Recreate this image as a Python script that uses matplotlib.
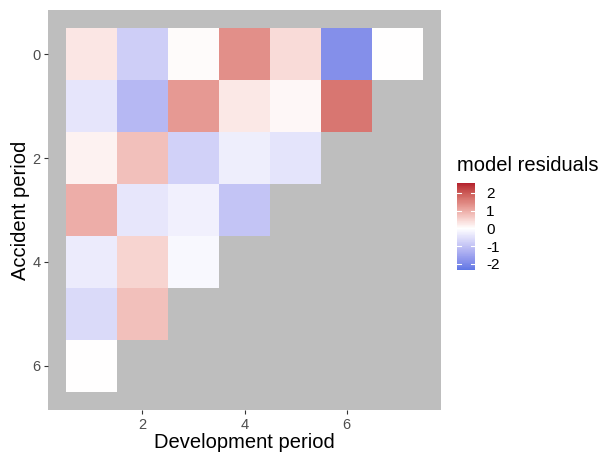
import matplotlib
matplotlib.use("Agg")
import matplotlib.pyplot as plt
import numpy as np
from matplotlib.colors import ListedColormap, Normalize, to_rgb

plt.rcParams['font.family'] = ['Liberation Sans', 'DejaVu Sans']
plt.rcParams['axes.unicode_minus'] = False

dev = [1, 2, 3, 4, 5, 6, 7]
acc = [0, 1, 2, 3, 4, 5, 6]
nan = np.nan
# residuals, rows = accident period, cols = development period
residuals = [
    [0.30, -0.80, 0.05, 1.36, 0.44, -1.88, 0.00],
    [-0.41, -1.16, 1.23, 0.28, 0.10, 1.65, nan],
    [0.16, 0.76, -0.74, -0.28, -0.44, nan, nan],
    [0.98, -0.40, -0.24, -0.97, nan, nan, nan],
    [-0.31, 0.52, -0.11, nan, nan, nan, nan],
    [-0.60, 0.76, nan, nan, nan, nan, nan],
    [0.00, nan, nan, nan, nan, nan, nan],
]
cbar_ticks = [-2, -1, 0, 1, 2]


# gradient through white, interpolated in Lab like ggplot's gradient2
def to_lab(c):
    c = np.array(to_rgb(c))
    lin = np.where(c <= 0.04045, c / 12.92, ((c + 0.055) / 1.055) ** 2.4)
    M = np.array([[0.4124, 0.3576, 0.1805], [0.2126, 0.7152, 0.0722], [0.0193, 0.1192, 0.9505]])
    xyz = M @ lin / np.array([0.95047, 1.0, 1.08883])
    f = np.where(xyz > 0.008856, np.cbrt(xyz), 7.787 * xyz + 16 / 116)
    return np.array([116 * f[1] - 16, 500 * (f[0] - f[1]), 200 * (f[1] - f[2])])


def from_lab(lab):
    L, a, b = lab
    fy = (L + 16) / 116
    f = np.array([fy + a / 500, fy, fy - b / 200])
    xyz = np.where(f ** 3 > 0.008856, f ** 3, (f - 16 / 116) / 7.787) * np.array([0.95047, 1.0, 1.08883])
    Mi = np.array([[3.2406, -1.5372, -0.4986], [-0.9689, 1.8758, 0.0415], [0.0557, -0.2040, 1.0570]])
    lin = np.clip(Mi @ xyz, 0, 1)
    return np.where(lin <= 0.0031308, 12.92 * lin, 1.055 * lin ** (1 / 2.4) - 0.055)


low, mid, high = to_lab("#4169E1"), to_lab("#FFFFFF"), to_lab("#B2182B")
cols = []
for s in np.linspace(0, 1, 256):
    if s < 0.5:
        lab = low + (mid - low) * (s / 0.5)
    else:
        lab = mid + (high - mid) * ((s - 0.5) / 0.5)
    cols.append(np.clip(from_lab(lab), 0, 1))
cmap = ListedColormap(cols)
norm = Normalize(vmin=-2.6, vmax=2.6)

z = np.ma.masked_invalid(np.array(residuals))

fig = plt.figure(figsize=(6.03, 4.55), dpi=100)
ax = fig.add_axes([48/603, 1-410/455, 393/603, 400/455])
ax.set_facecolor('#BEBEBE')
xe = np.arange(0.5, 8.0, 1.0)
ye = np.arange(-0.5, 7.0, 1.0)
mesh = ax.pcolormesh(xe, ye, z, cmap=cmap, norm=norm)
ax.set_xlim(0.15, 7.85)
ax.set_ylim(6.85, -0.85)
for s in ax.spines.values():
    s.set_visible(False)
ax.set_xticks([2, 4, 6])
ax.set_yticks([0, 2, 4, 6])
ax.tick_params(colors='#333333', labelcolor='#4D4D4D', labelsize=10.5, length=3, width=0.8, pad=2.5)
ax.set_xlabel("Development period", fontsize=14.5, labelpad=1)
ax.set_ylabel("Accident period", fontsize=14.5)
ax.yaxis.set_label_coords((30 - 48) / 393, 0.5)

cax = fig.add_axes([457/603, 1-270/455, 18/603, 87/455])
cb = fig.colorbar(mesh, cax=cax, boundaries=np.linspace(-2.34, 2.56, 200), ticks=cbar_ticks)
cb.outline.set_visible(False)
cax.tick_params(length=0, labelsize=11, labelcolor='black', pad=8)
for t in cbar_ticks:
    cax.plot([0, 0.2], [t, t], color='white', lw=0.8, transform=cax.get_yaxis_transform())
    cax.plot([0.8, 1.0], [t, t], color='white', lw=0.8, transform=cax.get_yaxis_transform())
fig.text(457/603, 1-171/455, "model residuals", fontsize=14.5, ha='left', va='baseline')

fig.savefig("out.png", dpi=100)
